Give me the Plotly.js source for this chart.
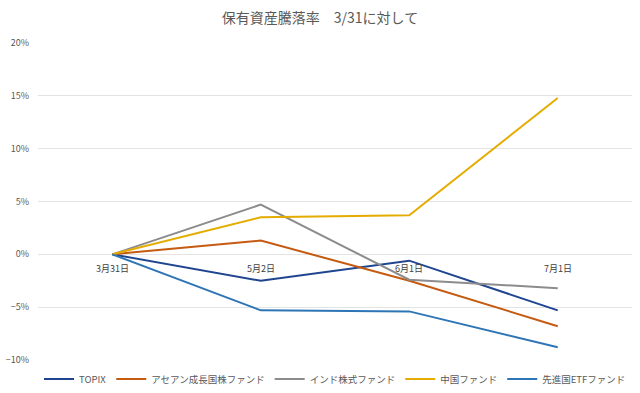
<!DOCTYPE html>
<html>
<head>
<meta charset="utf-8">
<script src="https://cdn.plot.ly/plotly-3.0.1.min.js"></script>
<style>html,body{margin:0;padding:0;background:#fff;}#chart{width:640px;height:393px;}</style>
</head>
<body>
<div id="chart"></div>
<script>
const categories = ['3月31日', '5月2日', '6月1日', '7月1日'];
const seriesNames = ['TOPIX', 'アセアン成長国株ファンド', 'インド株式ファンド', '中国ファンド', '先進国ETFファンド'];
const topix = [0, -0.025, -0.006, -0.053];
const asean = [0, 0.013, -0.025, -0.068];
const india = [0, 0.047, -0.024, -0.032];
const china = [0, 0.035, 0.037, 0.148];
const developed = [0, -0.053, -0.054, -0.088];
const seriesValues = [topix, asean, india, china, developed];
const colors = ['#1F4590', '#C55A11', '#8C8C8C', '#E5AC00', '#2E75B6'];
const yTicks = [-0.1, -0.05, 0, 0.05, 0.1, 0.15, 0.2];

const font = "'Noto Sans CJK JP', 'Noto Sans', sans-serif";

const traces = seriesValues.map((vals, i) => ({
  x: categories,
  y: vals,
  name: seriesNames[i],
  type: 'scatter',
  mode: 'lines',
  line: {color: colors[i], width: 2},
  hoverinfo: 'skip'
}));

const annotations = categories.map(c => ({
  x: c, y: 0, xref: 'x', yref: 'y',
  text: c, showarrow: false,
  yanchor: 'top', yshift: -6,
  font: {family: font, size: 9, color: '#404040'}
}));

const layout = {
  width: 640, height: 393,
  margin: {l: 38, r: 8, t: 43, b: 33, autoexpand: false},
  paper_bgcolor: '#fff', plot_bgcolor: '#fff',
  title: {text: '保有資産騰落率　3/31に対して', x: 0.5, xanchor: 'center', y: 0.955, yanchor: 'middle',
          font: {family: font, size: 14, color: '#595959'}},
  xaxis: {type: 'category', range: [-0.5, 3.5], showticklabels: false, showgrid: false,
          zeroline: false, showline: false, ticks: ''},
  yaxis: {range: [-0.1, 0.2], tickvals: yTicks, tickformat: '.0%', showgrid: true,
          gridcolor: '#E3E3E3', gridwidth: 1, zeroline: false, showline: false, ticks: '',
          ticklabelstandoff: 8,
          tickfont: {family: font, size: 9, color: '#595959'}},
  legend: {orientation: 'h', x: 0.5, xanchor: 'center', y: -0.06, yanchor: 'middle',
           font: {family: font, size: 9.5, color: '#595959'}, itemwidth: 30, tracegroupgap: 0},
  annotations: annotations,
  showlegend: true
};

Plotly.newPlot('chart', traces, layout, {staticPlot: true, displayModeBar: false});
</script>
</body>
</html>
